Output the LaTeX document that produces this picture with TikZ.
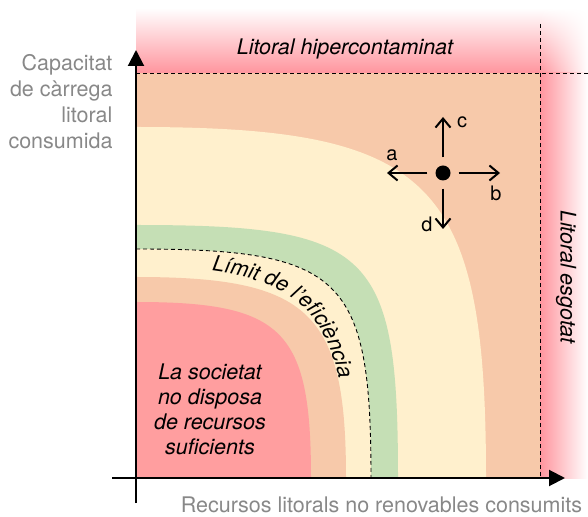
\documentclass[tikz,border=0pt]{standalone}
\usepackage{fontspec}
\setmainfont{TeX Gyre Heros}
\usetikzlibrary{arrows.meta,decorations.text,fadings}
\definecolor{peach}{HTML}{F7C9AA}
\definecolor{cream}{HTML}{FFF0CD}
\definecolor{sage}{HTML}{C5DFB5}
\definecolor{rose}{HTML}{FF9E9F}
\definecolor{bandred}{HTML}{FF959E}
\definecolor{axgray}{HTML}{888888}
\begin{document}
\begin{tikzpicture}[x=1pt,y=1pt,
  lbl/.style={font=\fontsize{21.5}{26}\selectfont},
  itl/.style={font=\fontsize{21.5}{25}\selectfont\itshape},
  small/.style={font=\fontsize{20}{24}\selectfont},
  dashline/.style={line width=0.9pt, dash pattern=on 4pt off 3pt},
  axis/.style={line width=2pt, -{Triangle[length=16pt,width=16pt]}},
  move/.style={line width=2pt, -{Straight Barb[length=9pt,width=15pt]}}]
\useasboundingbox (-136,-38) rectangle (452,478);

% bands
\shade[top color=white, bottom color=bandred] (0,405) rectangle (404,470);
\shade[left color=bandred, right color=white] (404,0) rectangle (452,405);
\shade[top color=white, bottom color=bandred, path fading=east] (404,405) rectangle (452,470);

% regions
\fill[peach] (0,0) rectangle (404,405);
\fill[cream] (0,0) -- (0,351) .. controls (297.5,351) and (350,298.4) .. (350,0) -- cycle;
\fill[sage] (0,0) -- (0,253) .. controls (235.8,253) and (262,227.7) .. (262,0) -- cycle;
\fill[cream] (0,0) -- (0,229) .. controls (206.8,229) and (235,201.5) .. (235,0) -- cycle;
\fill[peach] (0,0) -- (0,201) .. controls (173.7,201) and (210,166.2) .. (210,0) -- cycle;
\fill[rose] (0,0) -- (0,176) .. controls (147.4,176) and (175,148.2) .. (175,0) -- cycle;

% efficiency limit
\draw[dashline] (0,229) .. controls (206.8,229) and (235,201.5) .. (235,0);
\path[decorate, decoration={text along path,
   text={|\fontsize{21.5}{22}\selectfont\itshape|Límit de l'eficiència},
   text align={left indent=76pt}}]
   (0,211) .. controls (170,211) and (211,169) .. (211,0);

% dashed limits
\coordinate (hl) at (0,405);
\coordinate (hr) at (452,405);
\coordinate (vt) at (404,454);
\coordinate (vb) at (404,0);
\draw[dashline] (hl) -- (hr);
\draw[dashline] (vt) -- (vb);

% axes
\coordinate (yb) at (0,-25);
\coordinate (yt) at (0,428);
\coordinate (xl) at (-24,0);
\coordinate (xr) at (429,0);
\draw[axis] (yb) -- (yt);
\draw[axis] (xl) -- (xr);

% labels
\node[itl, anchor=base] (top) at (209,423) {Litoral hipercontaminat};
\node[itl, rotate=-90] (right) at (430,201) {Litoral esgotat};
\node[lbl, text=axgray, anchor=base, inner sep=0pt] (xlab) at (245.5,-34) {Recursos litorals no renovables consumits};
\node[lbl, text=axgray, align=right, anchor=east] (ylab) at (-20,376) {Capacitat\\de càrrega\\litoral\\consumida};
\node[itl, align=center] (soc) at (74,68.5) {La societat\\no disposa\\de recursos\\suficients};

% movement cross
\node[circle, fill=black, inner sep=0pt, minimum size=15pt] (dot) at (307,305) {};
\coordinate (cT) at (307,361);
\coordinate (bT) at (364,305);
\coordinate (aT) at (251,305);
\coordinate (dT) at (307,249);
\draw[move] ([yshift=8pt]dot.north) -- (cT);
\draw[move] ([xshift=8pt]dot.east) -- (bT);
\draw[move] ([xshift=-8pt]dot.west) -- (aT);
\draw[move] ([yshift=-8pt]dot.south) -- (dT);
\node[small] (c) at (326,356) {c};
\node[small] (a) at (256,323) {a};
\node[small] (b) at (360,285) {b};
\node[small] (d) at (291,254) {d};
\end{tikzpicture}
\end{document}
